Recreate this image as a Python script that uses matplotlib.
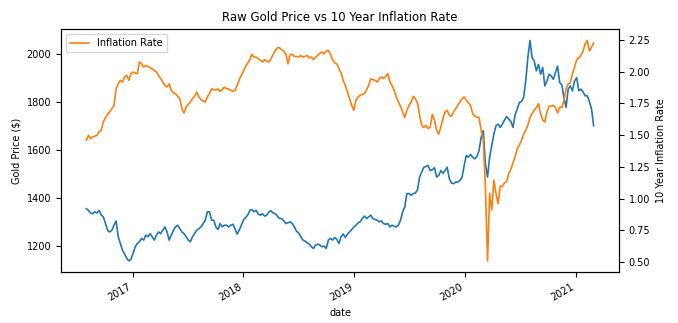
import numpy as np
import pandas as pd
import matplotlib
matplotlib.use('Agg')
import matplotlib.pyplot as plt
import matplotlib.dates as mdates

# weekly samples (Aug 2016 - Mar 2021)
dates = pd.date_range('2016-08-01', periods=240, freq='7D')

gold_price = [
    1356, 1349, 1338, 1335, 1343, 1338, 1349, 1329, 1322, 1294,
    1266, 1259, 1266, 1287, 1305, 1239, 1211, 1183, 1167, 1149,
    1138, 1145, 1170, 1197, 1211, 1218, 1232, 1225, 1246, 1239,
    1252, 1239, 1225, 1246, 1259, 1252, 1266, 1280, 1259, 1225,
    1246, 1266, 1280, 1287, 1273, 1259, 1252, 1239, 1225, 1218,
    1239, 1252, 1266, 1273, 1280, 1294, 1308, 1343, 1343, 1308,
    1308, 1280, 1269, 1294, 1280, 1287, 1287, 1280, 1287, 1291,
    1273, 1250, 1266, 1287, 1308, 1319, 1329, 1349, 1352, 1343,
    1349, 1333, 1329, 1335, 1325, 1329, 1343, 1347, 1338, 1335,
    1325, 1315, 1315, 1305, 1294, 1297, 1301, 1294, 1280, 1262,
    1255, 1239, 1225, 1221, 1214, 1208, 1197, 1190, 1204, 1208,
    1204, 1197, 1200, 1190, 1225, 1232, 1225, 1236, 1228, 1211,
    1239, 1250, 1236, 1250, 1259, 1269, 1280, 1287, 1297, 1301,
    1315, 1325, 1315, 1322, 1329, 1315, 1311, 1308, 1301, 1305,
    1294, 1291, 1294, 1280, 1287, 1283, 1280, 1287, 1308, 1343,
    1363, 1419, 1419, 1412, 1419, 1421, 1435, 1488, 1509, 1529,
    1532, 1536, 1515, 1518, 1527, 1488, 1495, 1515, 1504, 1515,
    1529, 1481, 1463, 1460, 1467, 1467, 1474, 1488, 1536, 1578,
    1571, 1582, 1571, 1564, 1574, 1598, 1654, 1682, 1543, 1488,
    1571, 1619, 1668, 1702, 1709, 1695, 1709, 1726, 1740, 1730,
    1720, 1695, 1748, 1772, 1799, 1803, 1820, 1889, 1986, 2058,
    1986, 1972, 1931, 1958, 1917, 1945, 1868, 1889, 1917, 1910,
    1896, 1924, 1951, 1882, 1873, 1820, 1779, 1855, 1868, 1848,
    1889, 1903, 1848, 1855, 1843, 1827, 1827, 1803, 1772, 1702,
]

inflation_rate = [
    1.460, 1.499, 1.473, 1.486, 1.491, 1.499, 1.525, 1.538, 1.604, 1.638,
    1.664, 1.682, 1.708, 1.734, 1.865, 1.904, 1.931, 1.918, 1.957, 1.970,
    1.931, 1.983, 1.996, 1.988, 1.983, 2.075, 2.061, 2.035, 2.048, 2.040,
    2.030, 2.022, 2.009, 1.996, 1.970, 1.944, 1.918, 1.891, 1.878, 1.904,
    1.852, 1.831, 1.826, 1.805, 1.787, 1.708, 1.674, 1.721, 1.742, 1.761,
    1.787, 1.805, 1.839, 1.800, 1.779, 1.768, 1.761, 1.800, 1.826, 1.865,
    1.857, 1.857, 1.863, 1.844, 1.857, 1.878, 1.865, 1.863, 1.852, 1.844,
    1.852, 1.891, 1.936, 1.970, 2.004, 2.040, 2.067, 2.093, 2.135, 2.114,
    2.114, 2.101, 2.088, 2.075, 2.093, 2.082, 2.075, 2.101, 2.135, 2.166,
    2.187, 2.187, 2.171, 2.161, 2.135, 2.061, 2.135, 2.135, 2.119, 2.119,
    2.114, 2.127, 2.114, 2.119, 2.127, 2.108, 2.114, 2.093, 2.114, 2.127,
    2.145, 2.153, 2.140, 2.161, 2.166, 2.135, 2.093, 2.067, 2.061, 2.022,
    1.988, 1.931, 1.891, 1.839, 1.787, 1.734, 1.695, 1.774, 1.800, 1.813,
    1.821, 1.826, 1.857, 1.891, 1.944, 1.936, 1.931, 1.918, 1.944, 1.957,
    1.944, 1.962, 1.983, 1.918, 1.891, 1.852, 1.800, 1.761, 1.727, 1.682,
    1.638, 1.695, 1.734, 1.761, 1.805, 1.787, 1.753, 1.656, 1.577, 1.559,
    1.577, 1.551, 1.564, 1.664, 1.617, 1.538, 1.507, 1.564, 1.630, 1.682,
    1.695, 1.656, 1.648, 1.682, 1.708, 1.734, 1.761, 1.787, 1.800, 1.774,
    1.753, 1.734, 1.669, 1.648, 1.643, 1.638, 1.538, 1.460, 1.094, 0.510,
    1.041, 0.910, 1.146, 1.041, 0.960, 1.099, 1.094, 1.125, 1.133, 1.198,
    1.230, 1.282, 1.329, 1.394, 1.420, 1.460, 1.507, 1.538, 1.577, 1.638,
    1.669, 1.695, 1.716, 1.747, 1.669, 1.617, 1.604, 1.682, 1.727, 1.727,
    1.734, 1.716, 1.674, 1.721, 1.716, 1.774, 1.865, 1.904, 1.910, 1.983,
    2.035, 2.093, 2.108, 2.127, 2.161, 2.218, 2.245, 2.161, 2.192, 2.224,
]

plt.rcParams['font.size'] = 7

fig = plt.figure(figsize=(6.78, 3.23), dpi=100)
ax = fig.add_axes([0.090, 0.158, 0.823, 0.751])
ax.plot(dates, gold_price, color='#1f77b4', lw=1.2, label='Gold Price')
ax.set_ylabel('Gold Price ($)')
ax.set_xlabel('date')
ax.set_title('Raw Gold Price vs 10 Year Inflation Rate', fontsize=8.5)

ax2 = ax.twinx()
ax2.plot(dates, inflation_rate, color='#ff7f0e', lw=1.2, label='Inflation Rate')
ax2.set_ylabel('10 Year Inflation Rate')
ax2.set_yticks([0.5, 0.75, 1.0, 1.25, 1.5, 1.75, 2.0, 2.25])
ax2.legend(loc='upper left')

ax.xaxis.set_major_locator(mdates.YearLocator())
ax.xaxis.set_major_formatter(mdates.DateFormatter('%Y'))
for lbl in ax.get_xticklabels():
    lbl.set_rotation(30)
    lbl.set_ha('right')

fig.savefig('out.png', dpi=100)
